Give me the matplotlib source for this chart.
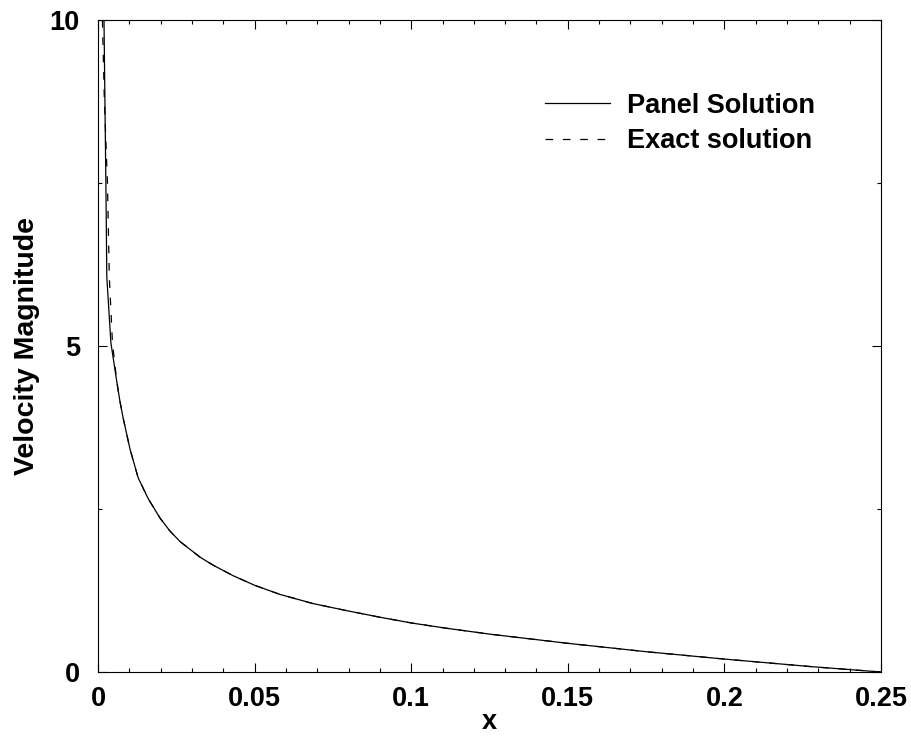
import matplotlib
matplotlib.use("Agg")
import matplotlib.pyplot as plt
from matplotlib.ticker import MultipleLocator

plt.rcParams["font.family"] = ["Liberation Sans", "DejaVu Sans"]
plt.rcParams["font.weight"] = "bold"
plt.rcParams["lines.scale_dashes"] = False

# panel solution
x_panel = [0.0019, 0.0025, 0.0028, 0.0041, 0.0060, 0.0070, 0.0080, 0.0102,
           0.0128, 0.0160, 0.0198, 0.0230, 0.0262, 0.0326, 0.0367, 0.0430,
           0.0500, 0.0581, 0.0686, 0.0795, 0.0900, 0.1003, 0.1114, 0.1252,
           0.1500, 0.1753, 0.1996, 0.2283, 0.2500]
v_panel = [10.0, 7.5, 6.06, 5.05, 4.45, 4.15, 3.90, 3.42,
           2.98, 2.66, 2.36, 2.16, 2.00, 1.76, 1.64, 1.48,
           1.33, 1.19, 1.05, 0.94, 0.84, 0.75, 0.67, 0.58,
           0.44, 0.31, 0.20, 0.08, 0.0]

# exact solution (differs from the panel result only near the leading edge)
x_exact = [0.0014, 0.0020, 0.0030, 0.0036, 0.0046] + x_panel[4:]
v_exact = [10.0, 8.8, 7.5, 6.06, 5.05] + v_panel[4:]

fig = plt.figure(figsize=(9.12, 7.49), dpi=100)
ax = fig.add_axes([0.1075, 0.1028, 0.8585, 0.8705])

ax.plot(x_panel, v_panel, color="black", lw=0.9, label="Panel Solution")
ax.plot(x_exact, v_exact, color="black", lw=0.9, dashes=(5.5, 7), label="Exact solution")

ax.set_xlim(0, 0.25)
ax.set_ylim(0, 10)
ax.xaxis.set_minor_locator(MultipleLocator(0.01))
ax.yaxis.set_minor_locator(MultipleLocator(2.5))
ax.set_xticks([0, 0.05, 0.1, 0.15, 0.2, 0.25])
ax.set_xticklabels(["0", "0.05", "0.1", "0.15", "0.2", "0.25"])
ax.set_yticks([0, 5, 10])
ax.set_yticklabels(["0", "5", "10"])

ax.tick_params(which="both", direction="in", top=True, right=True,
               labelsize=19.5, width=0.8)
ax.tick_params(which="major", length=6.5)
ax.tick_params(which="minor", length=3.2)
ax.tick_params(axis="x", pad=10)
ax.tick_params(axis="y", pad=13)
for sp in ax.spines.values():
    sp.set_linewidth(0.8)

ax.set_xlabel("x", fontsize=19.5, fontweight="bold", labelpad=-2)
ax.set_ylabel("Velocity Magnitude", fontsize=20.5, fontweight="bold", labelpad=7)

ax.legend(loc="upper left", bbox_to_anchor=(0.54, 0.926), frameon=False,
          handlelength=2.4, handletextpad=0.63, labelspacing=0.36,
          prop={"weight": "bold", "size": 19.5})

fig.savefig("out.png", dpi=100)
